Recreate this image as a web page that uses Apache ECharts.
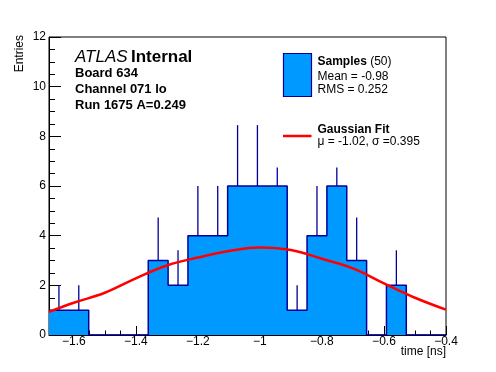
<!DOCTYPE html>
<html>
<head>
<meta charset="utf-8">
<script src="https://cdn.jsdelivr.net/npm/echarts@6/dist/echarts.min.js"></script>
<style>
html,body{margin:0;padding:0;background:#fff;}
#c{width:496px;height:372px;}
</style>
</head>
<body>
<div id="c"></div>
<script>
// ---- data ----
var binEdges = [-1.68, -1.616, -1.552, -1.488, -1.424, -1.36, -1.296, -1.232, -1.168, -1.104, -1.04,
                -0.976, -0.912, -0.848, -0.784, -0.72, -0.656, -0.592, -0.528, -0.464, -0.4];
var counts   = [1, 1, 0, 0, 0, 3, 2, 4, 4, 6, 6, 6, 1, 4, 6, 3, 0, 2, 0, 0];
var errTop   = [2, 2, 0, 0, 0, 4.73, 3.41, 6, 6, 8.45, 8.45, 6.75, 2, 6, 6.75, 4.73, 0, 3.41, 0, 0];
var fitX     = [-1.68, -1.6, -1.5, -1.4, -1.3, -1.2, -1.1, -1.0, -0.9, -0.8, -0.7, -0.6, -0.5, -0.4];
var fitY     = [0.93, 1.30, 1.70, 2.28, 2.80, 3.12, 3.38, 3.52, 3.42, 3.07, 2.68, 2.08, 1.50, 1.02];
var yTicks   = [0, 2, 4, 6, 8, 10, 12];
var labelsText = ['Board 634', 'Channel 071 lo', 'Run 1675 A=0.249'];
var legendSamples = {name: 'Samples', n: 50, mean: '-0.98', rms: '0.252'};
var legendFit = {name: 'Gaussian Fit', text: 'μ = -1.02, σ =0.395'};

// ---- build ----
var FONT = '"Liberation Sans", Arial, Helvetica, sans-serif';
var fillColor = '#0099ff', lineColor = '#000099';

var stepData = [];
for (var i = 0; i < counts.length; i++) stepData.push([binEdges[i], counts[i]]);
stepData.push([binEdges[binEdges.length - 1], counts[counts.length - 1]]);

var errData = [];
for (var j = 0; j < counts.length; j++) {
  if (counts[j] > 0) errData.push([(binEdges[j] + binEdges[j + 1]) / 2, counts[j], errTop[j]]);
}
var fitData = fitX.map(function (x, k) { return [x, fitY[k]]; });

function fmt(v) {
  var a = parseFloat(Math.abs(v).toFixed(3));
  return (v < -1e-9 ? '\u2212' : '') + a;
}

var chart = echarts.init(document.getElementById('c'), null, {renderer: 'canvas'});
chart.setOption({
  animation: false,
  backgroundColor: '#fff',
  textStyle: {fontFamily: FONT},
  grid: {left: 49, right: 50, top: 37, bottom: 37, show: true, borderColor: '#000', borderWidth: 1, backgroundColor: 'transparent'},
  xAxis: {
    type: 'value', min: binEdges[0], max: binEdges[binEdges.length - 1], splitNumber: 6,
    axisLine: {show: true, lineStyle: {color: '#000', width: 1}},
    axisTick: {show: true, inside: true, length: 9, lineStyle: {color: '#000'}},
    minorTick: {show: true, splitNumber: 4, length: 4.5, lineStyle: {color: '#000'}},
    splitLine: {show: false},
    axisLabel: {formatter: fmt, color: '#000', fontSize: 12, fontFamily: FONT, margin: 1, showMinLabel: false}
  },
  yAxis: {
    type: 'value', min: yTicks[0], max: yTicks[yTicks.length - 1], interval: 2,
    axisLine: {show: true, lineStyle: {color: '#000', width: 1}},
    axisTick: {show: true, inside: true, length: 12, lineStyle: {color: '#000'}},
    minorTick: {show: true, splitNumber: 4, length: 6, lineStyle: {color: '#000'}},
    splitLine: {show: false},
    axisLabel: {color: '#000', fontSize: 12, fontFamily: FONT, margin: 3}
  },
  series: [
    {
      type: 'line', step: 'end', data: stepData, symbol: 'none',
      lineStyle: {color: lineColor, width: 1.5},
      areaStyle: {color: fillColor, opacity: 1, origin: 'start'},
      z: 2
    },
    {
      type: 'custom', data: errData, z: 3,
      renderItem: function (params, api) {
        var p0 = api.coord([api.value(0), api.value(1)]);
        var p1 = api.coord([api.value(0), api.value(2)]);
        return {type: 'line', shape: {x1: p0[0], y1: p0[1], x2: p1[0], y2: p1[1]},
                style: {stroke: lineColor, lineWidth: 1.3}};
      }
    },
    {
      type: 'line', data: fitData, symbol: 'none', smooth: 0.4,
      lineStyle: {color: '#ff0000', width: 2.5}, z: 4
    }
  ],
  graphic: [
    {type: 'text', rotation: Math.PI / 2, x: 20, y: 35,
     style: {text: 'Entries', font: '12px ' + FONT, fill: '#000', align: 'right', verticalAlign: 'middle'}},
    {type: 'text', x: 446, y: 352,
     style: {text: 'time [ns]', font: '12px ' + FONT, fill: '#000', align: 'right', verticalAlign: 'middle'}},
    {type: 'text', x: 75, y: 57,
     style: {text: '{a|ATLAS} {b|Internal}', verticalAlign: 'middle', fill: '#000',
       rich: {a: {fontStyle: 'italic', fontSize: 17, fontFamily: FONT, fill: '#000'},
              b: {fontWeight: 'bold', fontSize: 17, fontFamily: FONT, fill: '#000'}}}},
    {type: 'text', x: 75, y: 73, style: {text: labelsText[0], font: 'bold 13px ' + FONT, fill: '#000', verticalAlign: 'middle'}},
    {type: 'text', x: 75, y: 89, style: {text: labelsText[1], font: 'bold 13px ' + FONT, fill: '#000', verticalAlign: 'middle'}},
    {type: 'text', x: 75, y: 105, style: {text: labelsText[2], font: 'bold 13px ' + FONT, fill: '#000', verticalAlign: 'middle'}},
    {type: 'rect', shape: {x: 283.5, y: 53.5, width: 28, height: 43},
     style: {fill: fillColor, stroke: lineColor, lineWidth: 1.2}},
    {type: 'text', x: 317.5, y: 61.5,
     style: {text: '{a|' + legendSamples.name + '} {b|(' + legendSamples.n + ')}', verticalAlign: 'middle', fill: '#000',
       rich: {a: {fontWeight: 'bold', fontSize: 12, fontFamily: FONT, fill: '#000'},
              b: {fontSize: 12, fontFamily: FONT, fill: '#000'}}}},
    {type: 'text', x: 317.5, y: 77, style: {text: 'Mean = ' + legendSamples.mean, font: '12px ' + FONT, fill: '#000', verticalAlign: 'middle'}},
    {type: 'text', x: 317.5, y: 90, style: {text: 'RMS = ' + legendSamples.rms, font: '12px ' + FONT, fill: '#000', verticalAlign: 'middle'}},
    {type: 'line', shape: {x1: 283, y1: 136, x2: 311.5, y2: 136}, style: {stroke: '#ff0000', lineWidth: 2.5}},
    {type: 'text', x: 317.5, y: 129.5, style: {text: legendFit.name, font: 'bold 12px ' + FONT, fill: '#000', verticalAlign: 'middle'}},
    {type: 'text', x: 317.5, y: 142, style: {text: legendFit.text, font: '12px ' + FONT, fill: '#000', verticalAlign: 'middle'}}
  ]
});
</script>
</body>
</html>
